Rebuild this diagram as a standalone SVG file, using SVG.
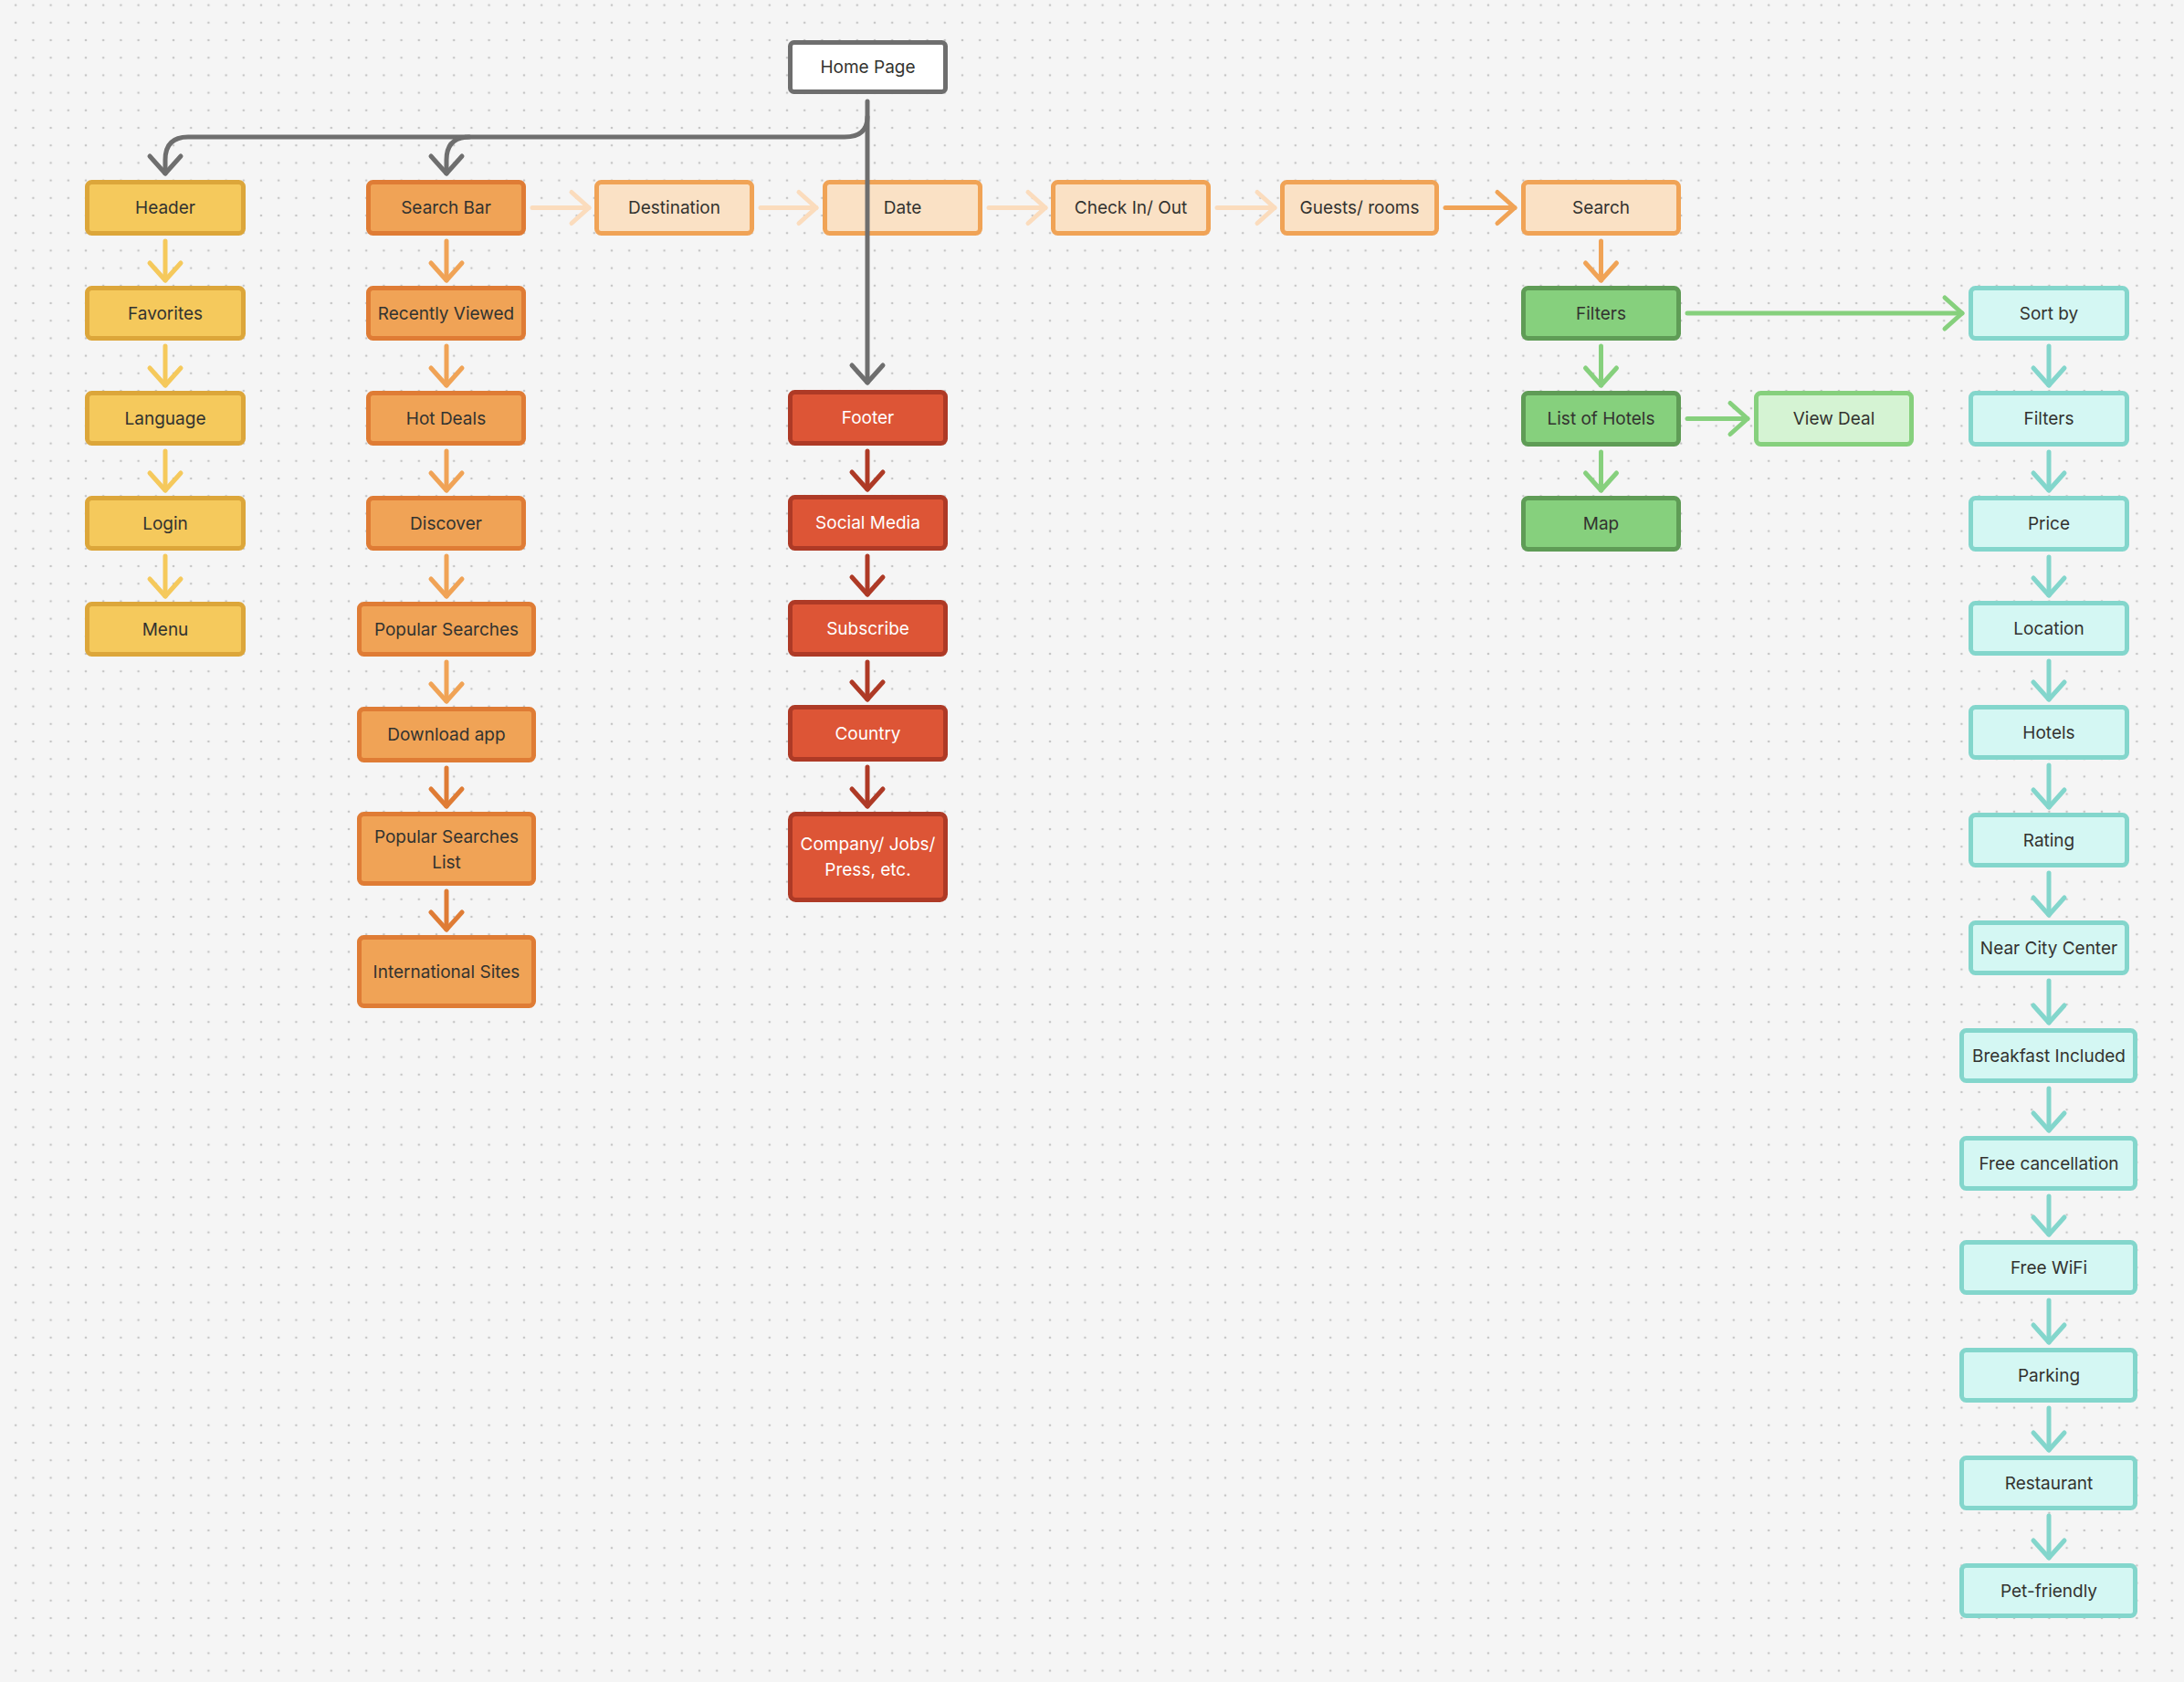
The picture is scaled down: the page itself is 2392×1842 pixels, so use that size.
<svg xmlns="http://www.w3.org/2000/svg" width="2392" height="1842" viewBox="0 0 2392 1842">
<style>
text{font-family:Inter,"Noto Sans","Liberation Sans",sans-serif;font-size:19px;font-weight:400;fill:#333330;text-anchor:middle;dominant-baseline:central}
.w text{fill:#ffffff}
rect{stroke-width:5}
.hp rect{fill:#ffffff;stroke:#6e6e6e}
.y rect{fill:#f5c95c;stroke:#dca63a}
.o rect{fill:#f0a356;stroke:#df7c35}
.p rect{fill:#fae1c5;stroke:#f0a356}
.r rect{fill:#dd5536;stroke:#ae3a26}
.g rect{fill:#86d07d;stroke:#5f9c56}
.lg rect{fill:#d5f3d3;stroke:#86d07d}
.t rect{fill:#d4f7f3;stroke:#83d6cc}
#connectors path{fill:none;stroke-width:5;stroke-linecap:round;stroke-linejoin:round}
.m path{fill:none;stroke-width:5;stroke-linecap:round;stroke-linejoin:round}
</style>
<defs>
<pattern id="dots" x="17.2" y="5.6" width="19.2" height="19.2" patternUnits="userSpaceOnUse">
<circle cx="0" cy="0" r="1.3" fill="#c4c4c4"/>
<circle cx="19.2" cy="0" r="1.3" fill="#c4c4c4"/>
<circle cx="0" cy="19.2" r="1.3" fill="#c4c4c4"/>
<circle cx="19.2" cy="19.2" r="1.3" fill="#c4c4c4"/>
</pattern>
<marker id="aGray" class="m" markerUnits="userSpaceOnUse" viewBox="-25 -25 30 50" refX="0" refY="0" markerWidth="30" markerHeight="50" orient="auto" overflow="visible"><path d="M-19,-17 L0,0 L-19,17" stroke="#6e6e6e"/></marker>
<marker id="aY" class="m" markerUnits="userSpaceOnUse" viewBox="-25 -25 30 50" refX="0" refY="0" markerWidth="30" markerHeight="50" orient="auto" overflow="visible"><path d="M-19,-17 L0,0 L-19,17" stroke="#f5c95c"/></marker>
<marker id="aO" class="m" markerUnits="userSpaceOnUse" viewBox="-25 -25 30 50" refX="0" refY="0" markerWidth="30" markerHeight="50" orient="auto" overflow="visible"><path d="M-19,-17 L0,0 L-19,17" stroke="#f0a356"/></marker>
<marker id="aDO" class="m" markerUnits="userSpaceOnUse" viewBox="-25 -25 30 50" refX="0" refY="0" markerWidth="30" markerHeight="50" orient="auto" overflow="visible"><path d="M-19,-17 L0,0 L-19,17" stroke="#df7c35"/></marker>
<marker id="aP" class="m" markerUnits="userSpaceOnUse" viewBox="-25 -25 30 50" refX="0" refY="0" markerWidth="30" markerHeight="50" orient="auto" overflow="visible"><path d="M-19,-17 L0,0 L-19,17" stroke="#fbdcbd"/></marker>
<marker id="aR" class="m" markerUnits="userSpaceOnUse" viewBox="-25 -25 30 50" refX="0" refY="0" markerWidth="30" markerHeight="50" orient="auto" overflow="visible"><path d="M-19,-17 L0,0 L-19,17" stroke="#ae3a26"/></marker>
<marker id="aG" class="m" markerUnits="userSpaceOnUse" viewBox="-25 -25 30 50" refX="0" refY="0" markerWidth="30" markerHeight="50" orient="auto" overflow="visible"><path d="M-19,-17 L0,0 L-19,17" stroke="#86d07d"/></marker>
<marker id="aT" class="m" markerUnits="userSpaceOnUse" viewBox="-25 -25 30 50" refX="0" refY="0" markerWidth="30" markerHeight="50" orient="auto" overflow="visible"><path d="M-19,-17 L0,0 L-19,17" stroke="#83d6cc"/></marker>
</defs>
<rect x="0" y="0" width="2392" height="1842" fill="#f5f5f5" stroke="none"/>
<rect x="0" y="0" width="2392" height="1842" fill="url(#dots)" stroke="none"/>

<g id="home-page" class="hp"><rect x="865.5" y="46.5" width="170" height="54" rx="4"/><text x="950.5" y="73.5">Home Page</text></g>

<g id="header" class="y"><rect x="95.5" y="199.5" width="171" height="56" rx="5"/><text x="181" y="227.5">Header</text></g>
<g id="favorites" class="y"><rect x="95.5" y="315.5" width="171" height="55" rx="5"/><text x="181" y="343">Favorites</text></g>
<g id="language" class="y"><rect x="95.5" y="430.5" width="171" height="55" rx="5"/><text x="181" y="458">Language</text></g>
<g id="login" class="y"><rect x="95.5" y="545.5" width="171" height="55" rx="5"/><text x="181" y="573">Login</text></g>
<g id="menu" class="y"><rect x="95.5" y="661.5" width="171" height="55" rx="5"/><text x="181" y="689">Menu</text></g>

<g id="search-bar" class="o"><rect x="403.5" y="199.5" width="170" height="56" rx="5"/><text x="488.5" y="227.5">Search Bar</text></g>
<g id="recently-viewed" class="o"><rect x="403.5" y="315.5" width="170" height="55" rx="5"/><text x="488.5" y="343">Recently Viewed</text></g>
<g id="hot-deals" class="o"><rect x="403.5" y="430.5" width="170" height="55" rx="5"/><text x="488.5" y="458">Hot Deals</text></g>
<g id="discover" class="o"><rect x="403.5" y="545.5" width="170" height="55" rx="5"/><text x="488.5" y="573">Discover</text></g>
<g id="popular-searches" class="o"><rect x="393.5" y="661.5" width="191" height="55" rx="5"/><text x="489" y="689">Popular Searches</text></g>
<g id="download-app" class="o"><rect x="393.5" y="776.5" width="191" height="56" rx="5"/><text x="489" y="804.5">Download app</text></g>
<g id="popular-searches-list" class="o"><rect x="393.5" y="891.5" width="191" height="76" rx="5"/><text x="489" y="916">Popular Searches</text><text x="489" y="944">List</text></g>
<g id="international-sites" class="o"><rect x="393.5" y="1026.5" width="191" height="75" rx="5"/><text x="489" y="1064">International Sites</text></g>

<g id="destination" class="p"><rect x="653.5" y="199.5" width="170" height="56" rx="5"/><text x="738.5" y="227.5">Destination</text></g>
<g id="date" class="p"><rect x="903.5" y="199.5" width="170" height="56" rx="5"/><text x="988.5" y="227.5">Date</text></g>
<g id="check-in-out" class="p"><rect x="1153.5" y="199.5" width="170" height="56" rx="5"/><text x="1238.5" y="227.5">Check In/ Out</text></g>
<g id="guests-rooms" class="p"><rect x="1404.5" y="199.5" width="169" height="56" rx="5"/><text x="1489" y="227.5">Guests/ rooms</text></g>
<g id="search" class="p"><rect x="1668.5" y="199.5" width="170" height="56" rx="5"/><text x="1753.5" y="227.5">Search</text></g>

<g id="footer" class="r w"><rect x="865.5" y="429.5" width="170" height="56" rx="5"/><text x="950.5" y="457.5">Footer</text></g>
<g id="social-media" class="r w"><rect x="865.5" y="544.5" width="170" height="56" rx="5"/><text x="950.5" y="572.5">Social Media</text></g>
<g id="subscribe" class="r w"><rect x="865.5" y="659.5" width="170" height="57" rx="5"/><text x="950.5" y="688">Subscribe</text></g>
<g id="country" class="r w"><rect x="865.5" y="774.5" width="170" height="57" rx="5"/><text x="950.5" y="803">Country</text></g>
<g id="company" class="r w"><rect x="865.5" y="891.5" width="170" height="94" rx="6"/><text x="950.5" y="924">Company/ Jobs/</text><text x="950.5" y="952">Press, etc.</text></g>

<g id="filters-green" class="g"><rect x="1668.5" y="315.5" width="170" height="55" rx="5"/><text x="1753.5" y="343">Filters</text></g>
<g id="list-of-hotels" class="g"><rect x="1668.5" y="430.5" width="170" height="56" rx="5"/><text x="1753.5" y="458.5">List of Hotels</text></g>
<g id="map" class="g"><rect x="1668.5" y="545.5" width="170" height="56" rx="5"/><text x="1753.5" y="573.5">Map</text></g>
<g id="view-deal" class="lg"><rect x="1923.5" y="430.5" width="170" height="56" rx="5"/><text x="2008.5" y="458.5">View Deal</text></g>

<g id="sort-by" class="t"><rect x="2158.5" y="315.5" width="171" height="55" rx="5"/><text x="2244" y="343">Sort by</text></g>
<g id="filters-teal" class="t"><rect x="2158.5" y="430.5" width="171" height="56" rx="5"/><text x="2244" y="458.5">Filters</text></g>
<g id="price" class="t"><rect x="2158.5" y="545.5" width="171" height="56" rx="5"/><text x="2244" y="573.5">Price</text></g>
<g id="location" class="t"><rect x="2158.5" y="660.5" width="171" height="55" rx="5"/><text x="2244" y="688">Location</text></g>
<g id="hotels" class="t"><rect x="2158.5" y="774.5" width="171" height="55" rx="5"/><text x="2244" y="802">Hotels</text></g>
<g id="rating" class="t"><rect x="2158.5" y="892.5" width="171" height="55" rx="5"/><text x="2244" y="920">Rating</text></g>
<g id="near-city-center" class="t"><rect x="2158.5" y="1010.5" width="171" height="55" rx="5"/><text x="2244" y="1038">Near City Center</text></g>
<g id="breakfast-included" class="t"><rect x="2148.5" y="1128.5" width="190" height="55" rx="5"/><text x="2244" y="1156">Breakfast Included</text></g>
<g id="free-cancellation" class="t"><rect x="2148.5" y="1246.5" width="190" height="55" rx="5"/><text x="2244" y="1274">Free cancellation</text></g>
<g id="free-wifi" class="t"><rect x="2148.5" y="1360.5" width="190" height="55" rx="5"/><text x="2244" y="1388">Free WiFi</text></g>
<g id="parking" class="t"><rect x="2148.5" y="1478.5" width="190" height="55" rx="5"/><text x="2244" y="1506">Parking</text></g>
<g id="restaurant" class="t"><rect x="2148.5" y="1596.5" width="190" height="55" rx="5"/><text x="2244" y="1624">Restaurant</text></g>
<g id="pet-friendly" class="t"><rect x="2148.5" y="1714.5" width="190" height="55" rx="5"/><text x="2244" y="1742">Pet-friendly</text></g>

<g id="connectors">
<g stroke="#6e6e6e">
<path d="M950,111 V419" marker-end="url(#aGray)"/>
<path d="M950,128 Q950,150 925,150 H206 Q181,150 181,175 V190" marker-end="url(#aGray)"/>
<path d="M514,150 Q489,150 489,175 V190" marker-end="url(#aGray)"/>
</g>
<g stroke="#f5c95c">
<path d="M181,264 V307" marker-end="url(#aY)"/>
<path d="M181,379 V422" marker-end="url(#aY)"/>
<path d="M181,494 V537" marker-end="url(#aY)"/>
<path d="M181,609 V653" marker-end="url(#aY)"/>
</g>
<g stroke="#f0a356">
<path d="M489,264 V307" marker-end="url(#aO)"/>
<path d="M489,379 V422" marker-end="url(#aO)"/>
<path d="M489,494 V537" marker-end="url(#aO)"/>
<path d="M489,609 V653" marker-end="url(#aO)"/>
<path d="M489,725 V768" marker-end="url(#aO)"/>
<path d="M1583,227.5 H1659" marker-end="url(#aO)"/>
<path d="M1753.5,264 V307" marker-end="url(#aO)"/>
</g>
<g stroke="#df7c35">
<path d="M489,841 V883" marker-end="url(#aDO)"/>
<path d="M489,976 V1018" marker-end="url(#aDO)"/>
</g>
<g stroke="#fbdcbd">
<path d="M583,227.5 H645" marker-end="url(#aP)"/>
<path d="M833,227.5 H894" marker-end="url(#aP)"/>
<path d="M1083,227.5 H1145" marker-end="url(#aP)"/>
<path d="M1333,227.5 H1396" marker-end="url(#aP)"/>
</g>
<g stroke="#ae3a26">
<path d="M950,494 V536" marker-end="url(#aR)"/>
<path d="M950,609 V651" marker-end="url(#aR)"/>
<path d="M950,725 V766" marker-end="url(#aR)"/>
<path d="M950,840 V883" marker-end="url(#aR)"/>
</g>
<g stroke="#86d07d">
<path d="M1753.5,379 V422" marker-end="url(#aG)"/>
<path d="M1753.5,495 V537" marker-end="url(#aG)"/>
<path d="M1848,343 H2149" marker-end="url(#aG)"/>
<path d="M1848,458.5 H1914" marker-end="url(#aG)"/>
</g>
<g stroke="#83d6cc">
<path d="M2244,379 V422" marker-end="url(#aT)"/>
<path d="M2244,495 V537" marker-end="url(#aT)"/>
<path d="M2244,610 V652" marker-end="url(#aT)"/>
<path d="M2244,724 V766" marker-end="url(#aT)"/>
<path d="M2244,838 V884" marker-end="url(#aT)"/>
<path d="M2244,956 V1002" marker-end="url(#aT)"/>
<path d="M2244,1074 V1120" marker-end="url(#aT)"/>
<path d="M2244,1192 V1238" marker-end="url(#aT)"/>
<path d="M2244,1310 V1352" marker-end="url(#aT)"/>
<path d="M2244,1424 V1470" marker-end="url(#aT)"/>
<path d="M2244,1542 V1588" marker-end="url(#aT)"/>
<path d="M2244,1660 V1706" marker-end="url(#aT)"/>
</g>
</g>
</svg>
